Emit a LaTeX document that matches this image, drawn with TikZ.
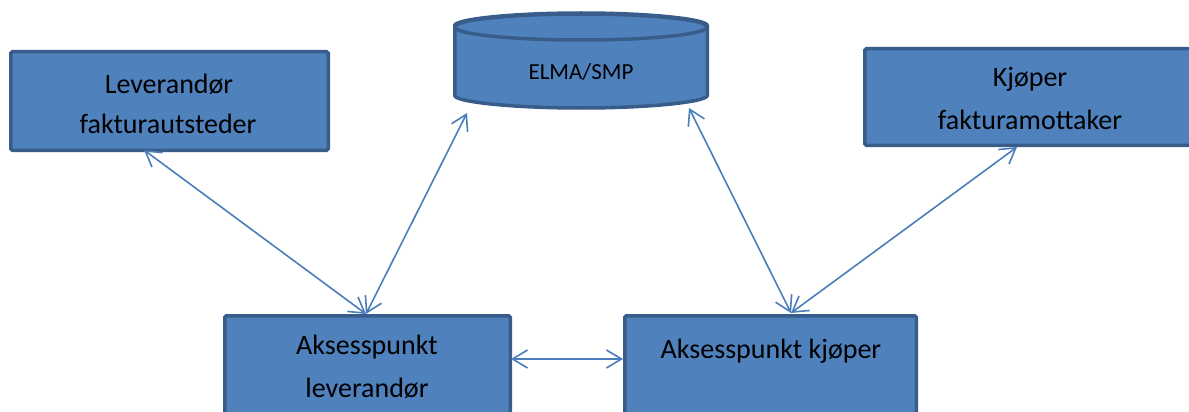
\documentclass[tikz,border=0pt]{standalone}
\usepackage{fontspec}
\setmainfont{Carlito}
\usetikzlibrary{arrows.meta}
\definecolor{boxfill}{HTML}{4F81BD}
\definecolor{boxline}{HTML}{385D8A}
\definecolor{arrowc}{HTML}{4A7EBB}
\tikzset{
  box/.style={draw=boxline, fill=boxfill, line width=3.5pt, rounded corners=1.5pt},
  lbl/.style={anchor=base, inner sep=0pt, font=\fontsize{28}{34}\selectfont},
  conn/.style={draw=arrowc, line width=1.6pt, {Straight Barb[length=15pt,width=18pt,line width=1.6pt]}-{Straight Barb[length=15pt,width=18pt,line width=1.6pt]}}
}
\begin{document}
\begin{tikzpicture}[x=1pt,y=1pt]
\clip (0,0) rectangle (1189,-412);
\fill[white] (0,0) rectangle (1189,-412);
% boxes
\path[box] (10.75,-51.75) rectangle (328.25,-150.25) node[pos=0.5, inner sep=0pt] (lev) {};
\path[box] (864.75,-48.75) rectangle (1200,-145.25) node[pos=0.5, inner sep=0pt] (kjo) {};
\path[box] (224.75,-315.75) rectangle (510.25,-440) node[pos=0.5, inner sep=0pt] (apl) {};
\path[box] (624.75,-315.75) rectangle (916.25,-440) node[pos=0.5, inner sep=0pt] (apk) {};
% cylinder
\path[box] (454.75,-27) -- (454.75,-94) arc[start angle=180,end angle=360,x radius=126.25pt,y radius=14pt] -- (707.25,-27) arc[start angle=0,end angle=180,x radius=126.25pt,y radius=14pt] -- cycle;
\path[box] (581,-27) ellipse [x radius=126.25pt, y radius=13pt];
\node (db) at (581,-60) [inner sep=0pt] {};
% texts
\node[lbl] (t1) at (169,-93) {Leverandør};
\node[lbl] (t2) at (168,-133) {fakturautsteder};
\node[lbl] (t3) at (1030,-87) {Kjøper};
\node[lbl] (t4) at (1030,-129) {fakturamottaker};
\node[lbl, font=\fontsize{23}{28}\selectfont] (t5) at (581,-80) {ELMA/SMP};
\node[lbl] (t6) at (367,-354) {Aksesspunkt};
\node[lbl] (t7) at (367,-397) {leverandør};
\node[lbl] (t8) at (771,-358) {Aksesspunkt kjøper};
% connector end points
\coordinate (levP) at (144,-150);
\coordinate (aplT) at (366,-314);
\coordinate (dbL) at (467,-113);
\coordinate (aplR) at (511,-359);
\coordinate (apkL) at (623,-359);
\coordinate (dbR) at (689,-108);
\coordinate (apkT) at (791,-313);
\coordinate (kjoP) at (1017,-147);
% connectors
\draw[conn] (levP) -- (aplT);
\draw[conn] (aplT) -- (dbL);
\draw[conn] (aplR) -- (apkL);
\draw[conn] (dbR) -- (apkT);
\draw[conn] (kjoP) -- (apkT);
\end{tikzpicture}
\end{document}
